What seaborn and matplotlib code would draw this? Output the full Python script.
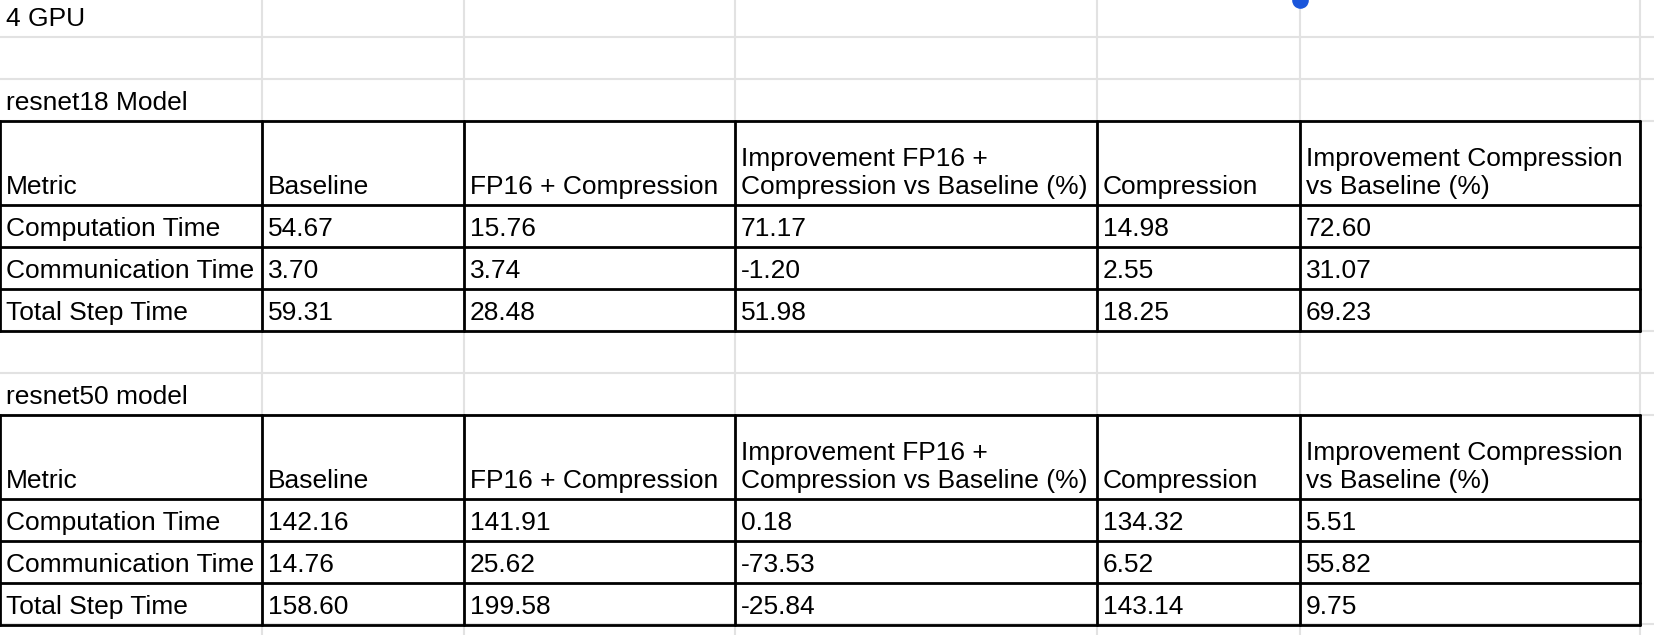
import matplotlib.pyplot as plt
import seaborn as sns

sns.set_theme(style="white")
plt.rcParams['font.family'] = ['Liberation Sans', 'DejaVu Sans']

SHEET_TITLE = "4 GPU"
MODEL_TITLES = ["resnet18 Model", "resnet50 model"]
HEADERS = ["Metric", "Baseline", "FP16 + Compression",
           "Improvement FP16 +\nCompression vs Baseline (%)", "Compression",
           "Improvement Compression\nvs Baseline (%)"]
METRICS = ["Computation Time", "Communication Time", "Total Step Time"]
R18_VALUES = [["54.67", "15.76", "71.17", "14.98", "72.60"],
              ["3.70", "3.74", "-1.20", "2.55", "31.07"],
              ["59.31", "28.48", "51.98", "18.25", "69.23"]]
R50_VALUES = [["142.16", "141.91", "0.18", "134.32", "5.51"],
              ["14.76", "25.62", "-73.53", "6.52", "55.82"],
              ["158.60", "199.58", "-25.84", "143.14", "9.75"]]

COLS = [0, 262, 464, 735, 1097, 1300, 1640]
GRID = "#e2e2e2"
FS = 19

fig = plt.figure(figsize=(16.54, 6.35), dpi=100)
ax = fig.add_axes([0, 0, 1, 1])
ax.set_xlim(0, 1654)
ax.set_ylim(635, 0)
ax.axis("off")

# light sheet grid
for y in [37, 79, 121, 331, 373, 415, 624]:
    ax.plot([0, 1654], [y, y], color=GRID, lw=1.5, zorder=1)
for x in COLS[1:]:
    ax.plot([x, x], [0, 635], color=GRID, lw=1.5, zorder=1)

def cell_text(x, y_bottom, s):
    ax.text(x + 6, y_bottom - 6, s, fontsize=FS, ha="left", va="bottom",
            color="black", linespacing=1.2, zorder=3)

cell_text(0, 37, SHEET_TITLE)


def draw_table(top, title, values):
    cell_text(0, top, title)
    rows = [top, top + 84, top + 126, top + 168, top + 210]
    for y in rows:
        ax.plot([COLS[0], COLS[-1]], [y, y], color="black", lw=2, zorder=2)
    for x in COLS:
        ax.plot([x, x], [rows[0], rows[-1]], color="black", lw=2, zorder=2)
    for i, h in enumerate(HEADERS):
        cell_text(COLS[i], rows[1], h)
    for r, (m, vals) in enumerate(zip(METRICS, values)):
        cell_text(COLS[0], rows[r + 2], m)
        for c, v in enumerate(vals):
            cell_text(COLS[c + 1], rows[r + 2], v)


draw_table(121, MODEL_TITLES[0], R18_VALUES)
draw_table(415, MODEL_TITLES[1], R50_VALUES)

ax.scatter([1300], [0], s=120, color="#1a56db", zorder=4, clip_on=False)

fig.savefig("out.png", dpi=100)
